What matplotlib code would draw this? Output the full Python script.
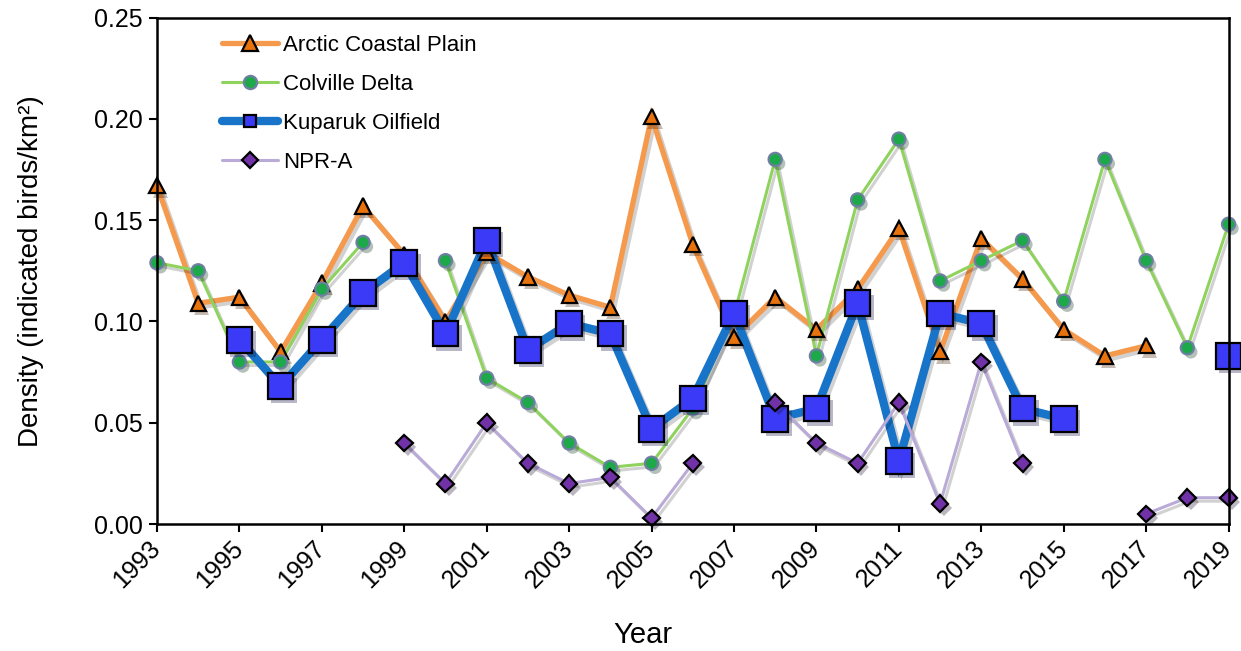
import numpy as np
import matplotlib
matplotlib.use("Agg")
import matplotlib.pyplot as plt
import matplotlib.patheffects as pe
from matplotlib.lines import Line2D

plt.rcParams["font.family"] = ["Liberation Sans", "DejaVu Sans"]

nan = np.nan
years = list(range(1993, 2020))

arctic_coastal_plain = [0.167, 0.109, 0.112, 0.085, 0.119, 0.157, 0.133, 0.100, 0.134,
                        0.122, 0.113, 0.107, 0.201, 0.138, 0.092, 0.112, 0.096, 0.116,
                        0.146, 0.085, 0.141, 0.121, 0.096, 0.083, 0.088, nan, nan]
colville_delta = [0.129, 0.125, 0.080, 0.080, 0.116, 0.139, nan, 0.130, 0.072,
                  0.060, 0.040, 0.028, 0.030, 0.057, 0.103, 0.180, 0.083, 0.160,
                  0.190, 0.120, 0.130, 0.140, 0.110, 0.180, 0.130, 0.087, 0.148]
kuparuk_oilfield = [nan, nan, 0.091, 0.068, 0.091, 0.114, 0.129, 0.094, 0.140,
                    0.086, 0.099, 0.094, 0.047, 0.062, 0.104, 0.052, 0.057, 0.109,
                    0.031, 0.104, 0.099, 0.057, 0.052, nan, nan, nan, 0.083]
npr_a = [nan, nan, nan, nan, nan, nan, 0.040, 0.020, 0.050,
         0.030, 0.020, 0.023, 0.003, 0.030, nan, 0.060, 0.040, 0.030,
         0.060, 0.010, 0.080, 0.030, nan, nan, 0.005, 0.013, 0.013]

series = [
    # label, values, line colour, line width, marker, size, face, edge
    ("Arctic Coastal Plain", arctic_coastal_plain, "#F5994C", 3.8, "^", 11, "#E8730E", "black"),
    ("Colville Delta", colville_delta, "#8FD35E", 2.2, "o", 9.5, "#1DA84A", "#6E7FA2"),
    ("Kuparuk Oilfield", kuparuk_oilfield, "#1874C8", 6.0, "s", 18.5, "#3B3BF7", "black"),
    ("NPR-A", npr_a, "#BAAAD8", 2.2, "D", 8.5, "#7132A8", "black"),
]

line_shadow = [pe.SimpleLineShadow(offset=(2, -2.5), alpha=0.18), pe.Normal()]
marker_shadow = [pe.SimplePatchShadow(offset=(2.5, -3), alpha=0.3), pe.Normal()]

fig = plt.figure(figsize=(12.41, 6.51), dpi=100)
ax = fig.add_axes([0.1265, 0.195, 0.8635, 0.778])

# lines first, then markers on top so every marker sits above every line
for label, vals, lc, lw, m, ms, fc, ec in series:
    ax.plot(years, vals, color=lc, lw=lw, zorder=2, solid_joinstyle="miter",
            path_effects=line_shadow, clip_on=False)
for label, vals, lc, lw, m, ms, fc, ec in series:
    ax.plot(years, vals, ls="none", marker=m, ms=ms, mfc=fc, mec=ec, mew=1.6,
            zorder=3, path_effects=marker_shadow, clip_on=False)

ax.set_xlim(1993, 2019)
ax.set_ylim(0, 0.25)
ax.set_xticks(range(1993, 2020, 2))
ax.set_xticklabels([str(y) for y in range(1993, 2020, 2)], rotation=45,
                   ha="right", va="center", rotation_mode="anchor")
ax.set_yticks(np.arange(0, 0.26, 0.05))
ax.set_yticklabels(["%.2f" % v for v in np.arange(0, 0.26, 0.05)])
ax.tick_params(direction="out", length=6, width=1.5, labelsize=18, pad=4)
ax.tick_params(axis="x", pad=9)
for sp in ax.spines.values():
    sp.set_linewidth(1.8)
    sp.set_color("black")
    sp.set_zorder(4)

ax.set_xlabel("Year", fontsize=21, va="center")
ax.xaxis.set_label_coords(0.453, -0.219)
ax.set_ylabel("Density (indicated birds/km\u00b2)", fontsize=20, va="center")
ax.yaxis.set_label_coords(-0.118, 0.5)

handles = []
for label, vals, lc, lw, m, ms, fc, ec in series:
    hms = 9 if m == "s" else ms
    handles.append(Line2D([], [], color=lc, lw=lw, marker=m, ms=hms, mfc=fc,
                          mec=ec, mew=1.6, solid_capstyle="round"))
leg = ax.legend(handles, [s[0] for s in series], loc="upper left",
                bbox_to_anchor=(0.042, 1.005), frameon=False, fontsize=16,
                handlelength=2.5, handletextpad=0.25, labelspacing=0.81)

fig.savefig("out.png", dpi=100)
